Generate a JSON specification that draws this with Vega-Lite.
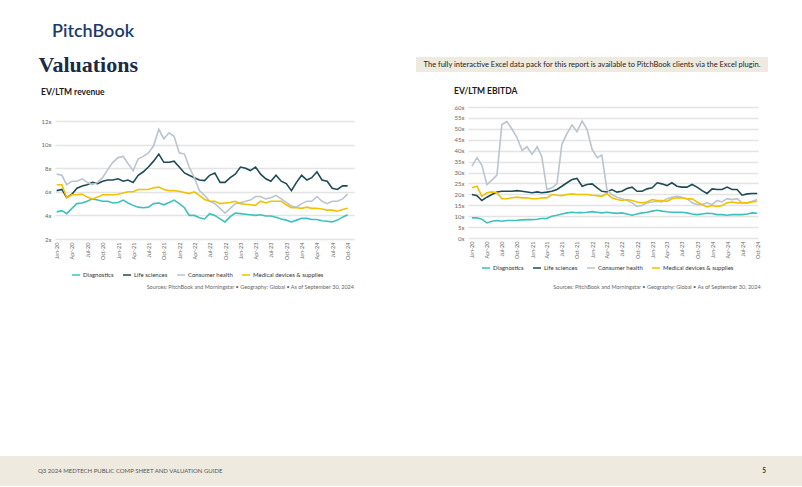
{
  "$schema": "https://vega.github.io/schema/vega-lite/v6.json",
  "padding": {"left": 0, "right": 0, "top": 23, "bottom": 0},
  "background": "white",
  "title": {"text": "PitchBook", "anchor": "start", "dx": 52, "fontSize": 18, "font": "Lato", "fontWeight": 600, "color": "#1C3A6B", "offset": 13},
  "datasets": {
    "rev": [
      {"date":"2020-01-01","Diagnostics":4.3,"Life sciences":6.1,"Consumer health":7.5,"Medical devices & supplies":6.6},
      {"date":"2020-02-01","Diagnostics":4.4,"Life sciences":6.2,"Consumer health":7.4,"Medical devices & supplies":6.6},
      {"date":"2020-03-01","Diagnostics":4.15,"Life sciences":5.5,"Consumer health":6.6,"Medical devices & supplies":5.5},
      {"date":"2020-04-01","Diagnostics":4.6,"Life sciences":5.8,"Consumer health":6.9,"Medical devices & supplies":5.75},
      {"date":"2020-05-01","Diagnostics":5.0,"Life sciences":6.3,"Consumer health":6.9,"Medical devices & supplies":5.75},
      {"date":"2020-06-01","Diagnostics":5.05,"Life sciences":6.5,"Consumer health":7.1,"Medical devices & supplies":5.8},
      {"date":"2020-07-01","Diagnostics":5.2,"Life sciences":6.6,"Consumer health":6.8,"Medical devices & supplies":5.55},
      {"date":"2020-08-01","Diagnostics":5.4,"Life sciences":6.8,"Consumer health":6.6,"Medical devices & supplies":5.4},
      {"date":"2020-09-01","Diagnostics":5.3,"Life sciences":6.7,"Consumer health":6.8,"Medical devices & supplies":5.55},
      {"date":"2020-10-01","Diagnostics":5.2,"Life sciences":6.9,"Consumer health":7.2,"Medical devices & supplies":5.75},
      {"date":"2020-11-01","Diagnostics":5.2,"Life sciences":7.0,"Consumer health":7.9,"Medical devices & supplies":5.75},
      {"date":"2020-12-01","Diagnostics":5.05,"Life sciences":7.0,"Consumer health":8.5,"Medical devices & supplies":5.75},
      {"date":"2021-01-01","Diagnostics":5.1,"Life sciences":7.1,"Consumer health":8.9,"Medical devices & supplies":5.8},
      {"date":"2021-02-01","Diagnostics":5.3,"Life sciences":6.9,"Consumer health":9.0,"Medical devices & supplies":5.9},
      {"date":"2021-03-01","Diagnostics":5.05,"Life sciences":7.0,"Consumer health":8.4,"Medical devices & supplies":6.0},
      {"date":"2021-04-01","Diagnostics":4.85,"Life sciences":6.8,"Consumer health":7.8,"Medical devices & supplies":6.0},
      {"date":"2021-05-01","Diagnostics":4.7,"Life sciences":7.4,"Consumer health":8.8,"Medical devices & supplies":6.2},
      {"date":"2021-06-01","Diagnostics":4.65,"Life sciences":7.7,"Consumer health":9.0,"Medical devices & supplies":6.2},
      {"date":"2021-07-01","Diagnostics":4.7,"Life sciences":8.1,"Consumer health":9.3,"Medical devices & supplies":6.2},
      {"date":"2021-08-01","Diagnostics":5.0,"Life sciences":8.6,"Consumer health":9.9,"Medical devices & supplies":6.35},
      {"date":"2021-09-01","Diagnostics":5.05,"Life sciences":9.2,"Consumer health":11.3,"Medical devices & supplies":6.4},
      {"date":"2021-10-01","Diagnostics":4.9,"Life sciences":8.5,"Consumer health":10.5,"Medical devices & supplies":6.2},
      {"date":"2021-11-01","Diagnostics":5.1,"Life sciences":8.5,"Consumer health":11.0,"Medical devices & supplies":6.1},
      {"date":"2021-12-01","Diagnostics":5.3,"Life sciences":8.6,"Consumer health":10.7,"Medical devices & supplies":6.1},
      {"date":"2022-01-01","Diagnostics":5.0,"Life sciences":8.1,"Consumer health":9.3,"Medical devices & supplies":6.05},
      {"date":"2022-02-01","Diagnostics":4.65,"Life sciences":7.6,"Consumer health":9.2,"Medical devices & supplies":5.95},
      {"date":"2022-03-01","Diagnostics":4.0,"Life sciences":7.4,"Consumer health":8.1,"Medical devices & supplies":5.85},
      {"date":"2022-04-01","Diagnostics":4.0,"Life sciences":7.2,"Consumer health":7.2,"Medical devices & supplies":6.0},
      {"date":"2022-05-01","Diagnostics":3.8,"Life sciences":7.0,"Consumer health":6.1,"Medical devices & supplies":5.7},
      {"date":"2022-06-01","Diagnostics":3.7,"Life sciences":6.95,"Consumer health":5.7,"Medical devices & supplies":5.35},
      {"date":"2022-07-01","Diagnostics":4.15,"Life sciences":7.4,"Consumer health":5.2,"Medical devices & supplies":5.2},
      {"date":"2022-08-01","Diagnostics":4.0,"Life sciences":7.6,"Consumer health":5.0,"Medical devices & supplies":5.2},
      {"date":"2022-09-01","Diagnostics":3.7,"Life sciences":6.8,"Consumer health":4.6,"Medical devices & supplies":5.0},
      {"date":"2022-10-01","Diagnostics":3.45,"Life sciences":6.8,"Consumer health":4.2,"Medical devices & supplies":5.05},
      {"date":"2022-11-01","Diagnostics":3.9,"Life sciences":7.2,"Consumer health":4.6,"Medical devices & supplies":5.1},
      {"date":"2022-12-01","Diagnostics":4.2,"Life sciences":7.5,"Consumer health":5.0,"Medical devices & supplies":5.2},
      {"date":"2023-01-01","Diagnostics":4.15,"Life sciences":8.1,"Consumer health":5.1,"Medical devices & supplies":5.0},
      {"date":"2023-02-01","Diagnostics":4.1,"Life sciences":8.0,"Consumer health":5.2,"Medical devices & supplies":4.95},
      {"date":"2023-03-01","Diagnostics":4.05,"Life sciences":7.8,"Consumer health":5.3,"Medical devices & supplies":4.9},
      {"date":"2023-04-01","Diagnostics":4.0,"Life sciences":8.1,"Consumer health":5.6,"Medical devices & supplies":4.85},
      {"date":"2023-05-01","Diagnostics":4.05,"Life sciences":7.5,"Consumer health":5.6,"Medical devices & supplies":5.2},
      {"date":"2023-06-01","Diagnostics":3.95,"Life sciences":7.1,"Consumer health":5.4,"Medical devices & supplies":5.05},
      {"date":"2023-07-01","Diagnostics":3.95,"Life sciences":6.9,"Consumer health":5.5,"Medical devices & supplies":5.2},
      {"date":"2023-08-01","Diagnostics":3.85,"Life sciences":7.4,"Consumer health":5.7,"Medical devices & supplies":5.2},
      {"date":"2023-09-01","Diagnostics":3.7,"Life sciences":6.9,"Consumer health":5.4,"Medical devices & supplies":5.2},
      {"date":"2023-10-01","Diagnostics":3.6,"Life sciences":6.7,"Consumer health":5.1,"Medical devices & supplies":4.9},
      {"date":"2023-11-01","Diagnostics":3.45,"Life sciences":6.1,"Consumer health":4.8,"Medical devices & supplies":4.65},
      {"date":"2023-12-01","Diagnostics":3.6,"Life sciences":6.8,"Consumer health":4.7,"Medical devices & supplies":4.65},
      {"date":"2024-01-01","Diagnostics":3.75,"Life sciences":7.4,"Consumer health":5.0,"Medical devices & supplies":4.6},
      {"date":"2024-02-01","Diagnostics":3.75,"Life sciences":7.0,"Consumer health":5.2,"Medical devices & supplies":4.7},
      {"date":"2024-03-01","Diagnostics":3.65,"Life sciences":7.2,"Consumer health":5.2,"Medical devices & supplies":4.6},
      {"date":"2024-04-01","Diagnostics":3.65,"Life sciences":7.7,"Consumer health":5.6,"Medical devices & supplies":4.6},
      {"date":"2024-05-01","Diagnostics":3.55,"Life sciences":7.0,"Consumer health":5.2,"Medical devices & supplies":4.55},
      {"date":"2024-06-01","Diagnostics":3.5,"Life sciences":6.9,"Consumer health":5.0,"Medical devices & supplies":4.45},
      {"date":"2024-07-01","Diagnostics":3.45,"Life sciences":6.3,"Consumer health":5.2,"Medical devices & supplies":4.45},
      {"date":"2024-08-01","Diagnostics":3.6,"Life sciences":6.2,"Consumer health":5.2,"Medical devices & supplies":4.35},
      {"date":"2024-09-01","Diagnostics":3.85,"Life sciences":6.5,"Consumer health":5.4,"Medical devices & supplies":4.5},
      {"date":"2024-10-01","Diagnostics":4.05,"Life sciences":6.5,"Consumer health":5.8,"Medical devices & supplies":4.6}
    ],
    "ebitda": [
      {"date":"2020-01-01","Diagnostics":9.2,"Life sciences":19.9,"Consumer health":32.9,"Medical devices & supplies":23.0},
      {"date":"2020-02-01","Diagnostics":9.3,"Life sciences":19.4,"Consumer health":36.8,"Medical devices & supplies":23.7},
      {"date":"2020-03-01","Diagnostics":8.6,"Life sciences":17.2,"Consumer health":33.4,"Medical devices & supplies":19.1},
      {"date":"2020-04-01","Diagnostics":6.9,"Life sciences":18.7,"Consumer health":24.5,"Medical devices & supplies":20.7},
      {"date":"2020-05-01","Diagnostics":7.7,"Life sciences":19.9,"Consumer health":26.5,"Medical devices & supplies":21.1},
      {"date":"2020-06-01","Diagnostics":8.0,"Life sciences":21.1,"Consumer health":28.8,"Medical devices & supplies":20.7},
      {"date":"2020-07-01","Diagnostics":7.7,"Life sciences":21.4,"Consumer health":52.0,"Medical devices & supplies":18.0},
      {"date":"2020-08-01","Diagnostics":8.0,"Life sciences":21.4,"Consumer health":53.3,"Medical devices & supplies":18.0},
      {"date":"2020-09-01","Diagnostics":8.0,"Life sciences":21.4,"Consumer health":49.8,"Medical devices & supplies":18.4},
      {"date":"2020-10-01","Diagnostics":8.1,"Life sciences":21.7,"Consumer health":46.0,"Medical devices & supplies":18.7},
      {"date":"2020-11-01","Diagnostics":8.3,"Life sciences":21.4,"Consumer health":40.1,"Medical devices & supplies":18.4},
      {"date":"2020-12-01","Diagnostics":8.4,"Life sciences":21.1,"Consumer health":41.8,"Medical devices & supplies":18.4},
      {"date":"2021-01-01","Diagnostics":8.4,"Life sciences":20.7,"Consumer health":38.3,"Medical devices & supplies":18.0},
      {"date":"2021-02-01","Diagnostics":8.6,"Life sciences":21.1,"Consumer health":41.8,"Medical devices & supplies":18.0},
      {"date":"2021-03-01","Diagnostics":8.9,"Life sciences":20.7,"Consumer health":37.2,"Medical devices & supplies":18.4},
      {"date":"2021-04-01","Diagnostics":8.9,"Life sciences":21.0,"Consumer health":22.2,"Medical devices & supplies":18.4},
      {"date":"2021-05-01","Diagnostics":10.0,"Life sciences":21.4,"Consumer health":23.0,"Medical devices & supplies":19.9},
      {"date":"2021-06-01","Diagnostics":10.4,"Life sciences":22.2,"Consumer health":24.8,"Medical devices & supplies":19.6},
      {"date":"2021-07-01","Diagnostics":11.0,"Life sciences":23.7,"Consumer health":42.9,"Medical devices & supplies":19.4},
      {"date":"2021-08-01","Diagnostics":11.5,"Life sciences":25.3,"Consumer health":47.8,"Medical devices & supplies":19.9},
      {"date":"2021-09-01","Diagnostics":11.8,"Life sciences":26.8,"Consumer health":51.8,"Medical devices & supplies":20.2},
      {"date":"2021-10-01","Diagnostics":11.6,"Life sciences":27.3,"Consumer health":48.7,"Medical devices & supplies":19.9},
      {"date":"2021-11-01","Diagnostics":11.6,"Life sciences":23.7,"Consumer health":53.6,"Medical devices & supplies":19.9},
      {"date":"2021-12-01","Diagnostics":11.8,"Life sciences":24.5,"Consumer health":49.8,"Medical devices & supplies":19.9},
      {"date":"2022-01-01","Diagnostics":12.1,"Life sciences":24.8,"Consumer health":40.6,"Medical devices & supplies":19.6},
      {"date":"2022-02-01","Diagnostics":11.8,"Life sciences":23.0,"Consumer health":36.8,"Medical devices & supplies":19.4},
      {"date":"2022-03-01","Diagnostics":11.5,"Life sciences":21.4,"Consumer health":38.0,"Medical devices & supplies":19.1},
      {"date":"2022-04-01","Diagnostics":11.8,"Life sciences":21.1,"Consumer health":22.2,"Medical devices & supplies":20.4},
      {"date":"2022-05-01","Diagnostics":11.5,"Life sciences":22.2,"Consumer health":19.9,"Medical devices & supplies":18.4},
      {"date":"2022-06-01","Diagnostics":11.3,"Life sciences":21.0,"Consumer health":18.7,"Medical devices & supplies":17.6},
      {"date":"2022-07-01","Diagnostics":11.5,"Life sciences":21.4,"Consumer health":18.0,"Medical devices & supplies":17.2},
      {"date":"2022-08-01","Diagnostics":11.0,"Life sciences":22.7,"Consumer health":17.2,"Medical devices & supplies":17.6},
      {"date":"2022-09-01","Diagnostics":10.4,"Life sciences":23.3,"Consumer health":16.1,"Medical devices & supplies":17.2},
      {"date":"2022-10-01","Diagnostics":11.0,"Life sciences":21.4,"Consumer health":14.5,"Medical devices & supplies":16.5},
      {"date":"2022-11-01","Diagnostics":11.5,"Life sciences":21.4,"Consumer health":14.9,"Medical devices & supplies":16.1},
      {"date":"2022-12-01","Diagnostics":11.8,"Life sciences":22.5,"Consumer health":16.1,"Medical devices & supplies":16.5},
      {"date":"2023-01-01","Diagnostics":12.3,"Life sciences":23.0,"Consumer health":16.5,"Medical devices & supplies":17.6},
      {"date":"2023-02-01","Diagnostics":12.7,"Life sciences":25.3,"Consumer health":16.8,"Medical devices & supplies":17.2},
      {"date":"2023-03-01","Diagnostics":12.3,"Life sciences":24.8,"Consumer health":16.5,"Medical devices & supplies":17.2},
      {"date":"2023-04-01","Diagnostics":12.0,"Life sciences":24.0,"Consumer health":18.0,"Medical devices & supplies":16.8},
      {"date":"2023-05-01","Diagnostics":11.8,"Life sciences":25.3,"Consumer health":18.7,"Medical devices & supplies":18.0},
      {"date":"2023-06-01","Diagnostics":11.8,"Life sciences":23.7,"Consumer health":19.1,"Medical devices & supplies":18.4},
      {"date":"2023-07-01","Diagnostics":11.8,"Life sciences":23.3,"Consumer health":18.7,"Medical devices & supplies":18.4},
      {"date":"2023-08-01","Diagnostics":11.5,"Life sciences":23.3,"Consumer health":18.0,"Medical devices & supplies":17.9},
      {"date":"2023-09-01","Diagnostics":11.0,"Life sciences":24.5,"Consumer health":16.1,"Medical devices & supplies":18.0},
      {"date":"2023-10-01","Diagnostics":10.7,"Life sciences":23.3,"Consumer health":15.3,"Medical devices & supplies":16.5},
      {"date":"2023-11-01","Diagnostics":11.0,"Life sciences":21.7,"Consumer health":15.3,"Medical devices & supplies":15.3},
      {"date":"2023-12-01","Diagnostics":11.3,"Life sciences":20.4,"Consumer health":16.1,"Medical devices & supplies":14.2},
      {"date":"2024-01-01","Diagnostics":11.2,"Life sciences":22.5,"Consumer health":15.3,"Medical devices & supplies":14.9},
      {"date":"2024-02-01","Diagnostics":10.7,"Life sciences":22.2,"Consumer health":17.2,"Medical devices & supplies":14.5},
      {"date":"2024-03-01","Diagnostics":10.7,"Life sciences":22.2,"Consumer health":16.5,"Medical devices & supplies":14.9},
      {"date":"2024-04-01","Diagnostics":10.4,"Life sciences":23.3,"Consumer health":18.0,"Medical devices & supplies":16.1},
      {"date":"2024-05-01","Diagnostics":10.7,"Life sciences":22.2,"Consumer health":17.6,"Medical devices & supplies":16.5},
      {"date":"2024-06-01","Diagnostics":10.7,"Life sciences":22.2,"Consumer health":18.0,"Medical devices & supplies":16.1},
      {"date":"2024-07-01","Diagnostics":10.7,"Life sciences":19.6,"Consumer health":16.1,"Medical devices & supplies":16.1},
      {"date":"2024-08-01","Diagnostics":11.0,"Life sciences":20.2,"Consumer health":16.1,"Medical devices & supplies":16.1},
      {"date":"2024-09-01","Diagnostics":11.5,"Life sciences":20.4,"Consumer health":16.8,"Medical devices & supplies":16.5},
      {"date":"2024-10-01","Diagnostics":11.3,"Life sciences":20.4,"Consumer health":17.6,"Medical devices & supplies":16.8}
    ]
  },
  "vconcat": [
    {
      "hconcat": [
        {"width": 38, "height": 1, "view": {"fill": "white", "stroke": null}, "data": {"values": []}, "mark": "text", "encoding": {}},
        {
          "vconcat": [
            {
              "hconcat": [
                {"width": 166, "height": 16, "data": {"values": [{"t": "Valuations"}]},
                 "mark": {"type": "text", "align": "right", "font": "Liberation Serif", "fontSize": 22, "fontWeight": "bold", "color": "#1B2A47"},
                 "encoding": {"text": {"field": "t"}}},
                {"width": 352, "height": 15, "view": {"fill": "#EEEAE0", "stroke": null}, "data": {"values": [{"t": "The fully interactive Excel data pack for this report is available to PitchBook clients via the Excel plugin."}]},
                 "mark": {"type": "text", "font": "Liberation Sans Narrow, Lato", "fontSize": 7.5, "color": "#222222"},
                 "encoding": {"text": {"field": "t"}}}
              ],
              "spacing": 195
            },
            {
              "hconcat": [
                {
                  "title": {"text": "Sources: PitchBook and Morningstar  •  Geography: Global  •  As of September 30, 2024", "orient": "bottom", "anchor": "end", "fontSize": 5.5, "fontWeight": "normal", "color": "#666666", "offset": 7},
                  "vconcat": [
                    {
                      "width": 299, "height": 132,
                      "title": {"text": "EV/LTM revenue", "anchor": "start", "fontSize": 8.5, "fontWeight": "bold", "color": "#1a1a1a", "offset": 11},
                      "data": {"name": "rev"},
                      "transform": [{"fold": ["Diagnostics", "Life sciences", "Consumer health", "Medical devices & supplies"], "as": ["series", "value"]}],
                      "mark": {"type": "line", "strokeWidth": 1.6},
                      "encoding": {
                        "x": {"field": "date", "type": "temporal", "timeUnit": "utcyearmonth",
                              "scale": {"domain": [{"year": 2019, "month": 12, "date": 22, "utc": true}, {"year": 2024, "month": 11, "date": 8, "utc": true}]},
                              "axis": {"format": "%b-%y", "tickCount": {"interval": "month", "step": 3}, "labelAngle": -90, "labelFontSize": 5.5, "labelColor": "#666666", "ticks": false, "domain": false, "grid": false, "title": null, "labelPadding": 3}},
                        "y": {"field": "value", "type": "quantitative", "scale": {"domain": [2, 13.19], "nice": false},
                              "axis": {"values": [2, 4, 6, 8, 10, 12], "labelExpr": "datum.value + 'x'", "labelFontSize": 6, "labelColor": "#666666", "ticks": false, "domain": false, "grid": true, "gridColor": "#E4E4E4", "gridWidth": 1.3, "title": null, "labelPadding": 4}},
                        "color": {"field": "series", "type": "nominal",
                                  "scale": {"domain": ["Diagnostics", "Life sciences", "Consumer health", "Medical devices & supplies"], "range": ["#3CC1BF", "#1E4B55", "#BAC5CE", "#F2C200"]},
                                  "legend": {"orient": "bottom", "direction": "horizontal", "title": null, "symbolType": "stroke", "symbolStrokeWidth": 1.5, "symbolSize": 64, "labelFontSize": 6, "labelColor": "#333333", "columnPadding": 6, "labelOffset": 2, "offset": 10}}
                      }
                    }
                  ]
                },
                {
                  "title": {"text": "Sources: PitchBook and Morningstar  •  Geography: Global  •  As of September 30, 2024", "orient": "bottom", "anchor": "end", "fontSize": 5.5, "fontWeight": "normal", "color": "#666666", "offset": 14},
                  "vconcat": [
                    {
                      "width": 290, "height": 131,
                      "title": {"text": "EV/LTM EBITDA", "anchor": "start", "fontSize": 8.5, "fontWeight": "bold", "color": "#1a1a1a", "offset": 9},
                      "data": {"name": "ebitda"},
                      "transform": [{"fold": ["Diagnostics", "Life sciences", "Consumer health", "Medical devices & supplies"], "as": ["series", "value"]}],
                      "mark": {"type": "line", "strokeWidth": 1.6},
                      "encoding": {
                        "x": {"field": "date", "type": "temporal", "timeUnit": "utcyearmonth",
                              "scale": {"domain": [{"year": 2019, "month": 12, "date": 8, "utc": true}, {"year": 2024, "month": 10, "date": 6, "utc": true}]},
                              "axis": {"format": "%b-%y", "tickCount": {"interval": "month", "step": 3}, "labelAngle": -90, "labelFontSize": 5.5, "labelColor": "#666666", "ticks": false, "domain": false, "grid": false, "title": null, "labelPadding": 3}},
                        "y": {"field": "value", "type": "quantitative", "scale": {"domain": [0, 60], "nice": false},
                              "axis": {"values": [0, 5, 10, 15, 20, 25, 30, 35, 40, 45, 50, 55, 60], "labelExpr": "datum.value + 'x'", "labelFontSize": 6, "labelColor": "#666666", "ticks": false, "domain": false, "grid": true, "gridColor": "#E4E4E4", "gridWidth": 1.3, "title": null, "labelPadding": 4}},
                        "color": {"field": "series", "type": "nominal",
                                  "scale": {"domain": ["Diagnostics", "Life sciences", "Consumer health", "Medical devices & supplies"], "range": ["#3CC1BF", "#1E4B55", "#BAC5CE", "#F2C200"]},
                                  "legend": {"orient": "bottom", "direction": "horizontal", "title": null, "symbolType": "stroke", "symbolStrokeWidth": 1.5, "symbolSize": 64, "labelFontSize": 6, "labelColor": "#333333", "columnPadding": 6, "labelOffset": 2, "offset": 4}}
                      }
                    }
                  ]
                }
              ],
              "spacing": 100,
              "resolve": {"scale": {"x": "independent", "y": "independent", "color": "independent"}, "legend": {"color": "independent"}}
            }
          ],
          "spacing": 10,
          "resolve": {"scale": {"x": "independent", "y": "independent", "color": "independent"}, "legend": {"color": "independent"}}
        }
      ],
      "spacing": 0,
      "resolve": {"scale": {"x": "independent", "y": "independent", "color": "independent"}, "legend": {"color": "independent"}}
    },
    {
      "width": 802, "height": 30,
      "view": {"fill": "#EEEAE0", "stroke": null},
      "layer": [
        {"data": {"values": [{"side": "left", "t": "Q3 2024 MEDTECH PUBLIC COMP SHEET AND VALUATION GUIDE"}]},
         "mark": {"type": "text", "align": "left", "fontSize": 6, "color": "#555555"},
         "encoding": {"x": {"field": "side", "type": "nominal", "scale": {"type": "point", "domain": ["left", "right"], "padding": 0.0523}, "axis": null}, "text": {"field": "t"}}},
        {"data": {"values": [{"side": "right", "t": "5"}]},
         "mark": {"type": "text", "align": "center", "fontSize": 6.5, "fontWeight": "bold", "color": "#333333"},
         "encoding": {"x": {"field": "side", "type": "nominal", "scale": {"type": "point", "domain": ["left", "right"], "padding": 0.0523}, "axis": null}, "text": {"field": "t"}}}
      ]
    }
  ],
  "spacing": 165,
  "resolve": {"scale": {"x": "independent", "y": "independent", "color": "independent"}, "legend": {"color": "independent"}},
  "config": {"view": {"stroke": null}, "font": "Lato", "title": {"font": "Lato"}, "legend": {"layout": {"bottom": {"anchor": "middle"}}}}
}
